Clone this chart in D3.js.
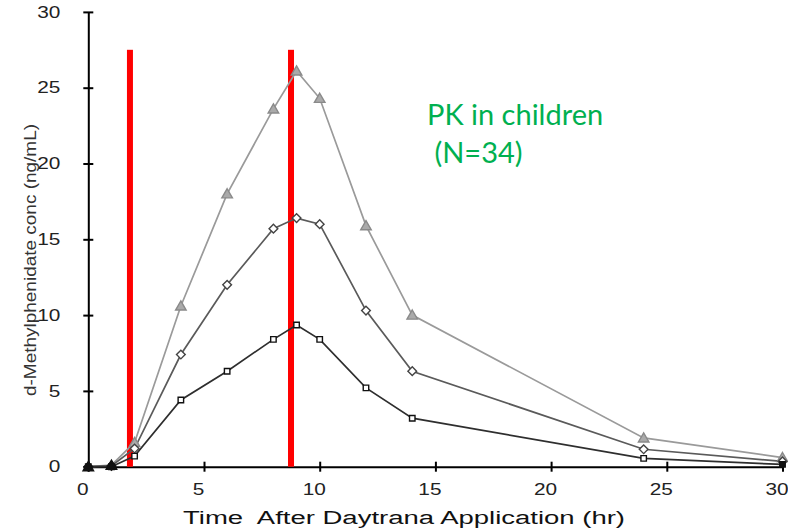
<!DOCTYPE html>
<html>
<head>
<meta charset="utf-8">
<script src="https://cdn.jsdelivr.net/npm/d3@7"></script>
<style>
body { margin: 0; background: #fff; }
svg { display: block; }
</style>
</head>
<body>
<svg width="788" height="529"></svg>
<script>
// sampling times (hr)
var times = [0, 1, 2, 4, 6, 8, 9, 10, 12, 14, 24, 30];
// three dose curves, ng/mL
var highConc = [0, 0.1, 1.6, 10.6, 18.0, 23.6, 26.1, 24.3, 15.9, 10.0, 1.9, 0.6];
var midConc = [0, 0.05, 1.2, 7.4, 12.0, 15.7, 16.4, 16.0, 10.3, 6.3, 1.15, 0.35];
var lowConc = [0, 0, 0.7, 4.4, 6.3, 8.4, 9.35, 8.4, 5.2, 3.2, 0.55, 0.15];
var xTicks = [0, 5, 10, 15, 20, 25, 30];
var yTicks = [0, 5, 10, 15, 20, 25, 30];
// wear window markers
var redLineTimes = [1.8, 8.76];
var redLineTop = 27.5;
var noteLines = ["PK in children", " (N=34)"];

var svg = d3.select("svg");
var x = d3.scaleLinear().domain([0, 30]).range([88.3, 782.5]);
var y = d3.scaleLinear().domain([0, 30]).range([466.7, 11.9]);

// stretch text to look like the old scanned chart
var stretch = function(sel, k){
    sel.each(function(){
        var len = this.getComputedTextLength();
        d3.select(this).attr("textLength", len * k).attr("lengthAdjust", "spacingAndGlyphs");
    });
}

var xAxis = svg.append("g")
    .attr("transform", "translate(0," + y(0) + ")")
    .call(d3.axisBottom(x).tickValues(xTicks).tickSizeOuter(0).tickSizeInner(5).tickPadding(12));
var yAxis = svg.append("g")
    .attr("transform", "translate(" + x(0) + ",0)")
    .call(d3.axisLeft(y).tickValues(yTicks).tickSizeOuter(0).tickSizeInner(5).tickPadding(26));

xAxis.selectAll(".tick line").attr("y1", -5).attr("y2", 5);
yAxis.selectAll(".tick line").attr("x1", -5).attr("x2", 5);
svg.selectAll(".domain, .tick line").attr("stroke", "#000").attr("stroke-width", 2);

xAxis.selectAll(".tick text")
    .attr("dx", -6)
    .attr("dy", "0.35em")
    .attr("y", 23)
    .style("font-family", "Liberation Sans, Arial, sans-serif")
    .style("font-size", "16px")
    .attr("fill", "#222");
yAxis.selectAll(".tick text")
    .attr("x", -28)
    .style("font-family", "Liberation Sans, Arial, sans-serif")
    .style("font-size", "16px")
    .attr("fill", "#222");
stretch(xAxis.selectAll(".tick text"), 1.3);
stretch(yAxis.selectAll(".tick text"), 1.3);

// axis titles
var xTitle = svg.append("text")
    .attr("x", 183)
    .attr("y", 524)
    .style("font-family", "Liberation Sans, Arial, sans-serif")
    .style("font-size", "18px")
    .style("white-space", "pre")
    .attr("fill", "#111")
    .text("Time  After Daytrana Application (hr)")
    .attr("textLength", 442)
    .attr("lengthAdjust", "spacingAndGlyphs");

var yTitle = svg.append("text")
    .attr("transform", "translate(36,260) rotate(-90)")
    .attr("text-anchor", "middle")
    .style("font-family", "Liberation Sans, Arial, sans-serif")
    .style("font-size", "16.5px")
    .attr("fill", "#333")
    .text("d-Methylphenidate conc (ng/mL)")
    .attr("textLength", 272)
    .attr("lengthAdjust", "spacingAndGlyphs");

// red vertical lines
svg.selectAll("rect.redline").data(redLineTimes).enter()
    .append("rect")
    .attr("class", "redline")
    .attr("x", function(d){return x(d) - 3})
    .attr("y", y(redLineTop))
    .attr("width", 6)
    .attr("height", y(0) - y(redLineTop))
    .attr("fill", "#ff0000");

var series = [
    {vals: highConc, line: "#9a9a9a", shape: "tri"},
    {vals: midConc, line: "#5a5a5a", shape: "dia"},
    {vals: lowConc, line: "#2e2e2e", shape: "sq"}
];

var line = d3.line()
    .x(function(d, i){return x(times[i])})
    .y(function(d){return y(d)});

series.forEach(function(s){
    svg.append("path")
	.attr("d", line(s.vals))
	.attr("fill", "none")
	.attr("stroke", s.line)
	.attr("stroke-width", 1.7);
});

// diamond = square turned 45 degrees
var symbols = {tri: d3.symbolTriangle, dia: d3.symbolSquare, sq: d3.symbolSquare};
var sizes = {tri: 48, dia: 38, sq: 30};
var turns = {tri: 0, dia: 45, sq: 0};
var fills = {tri: "#aaaaaa", dia: "#ffffff", sq: "#ffffff"};
var strokes = {tri: "#8a8a8a", dia: "#444", sq: "#111"};

series.forEach(function(s){
    svg.selectAll("path.m" + s.shape).data(s.vals).enter()
	.append("path")
	.attr("class", "m" + s.shape)
	.attr("d", d3.symbol().type(symbols[s.shape]).size(sizes[s.shape]))
	.attr("transform", function(d, i){
	    var yy = y(d) + (s.shape == "tri" ? 1 : 0);
	    return "translate(" + x(times[i]) + "," + yy + ") rotate(" + turns[s.shape] + ")"})
	.attr("fill", function(d){return d < 0.3 ? "#111" : fills[s.shape]})
	.attr("stroke", function(d){return d < 0.3 ? "#111" : strokes[s.shape]})
	.attr("stroke-width", 1.4);
});

// green annotation
svg.selectAll("text.note").data(noteLines).enter()
    .append("text")
    .attr("class", "note")
    .attr("x", 427)
    .attr("y", function(d, i){return 125 + i * 38})
    .style("white-space", "pre")
    .style("font-family", "Lato, Open Sans, sans-serif")
    .style("font-size", "29px")
    .attr("fill", "#00b050")
    .text(function(d){return d});
</script>
</body>
</html>
